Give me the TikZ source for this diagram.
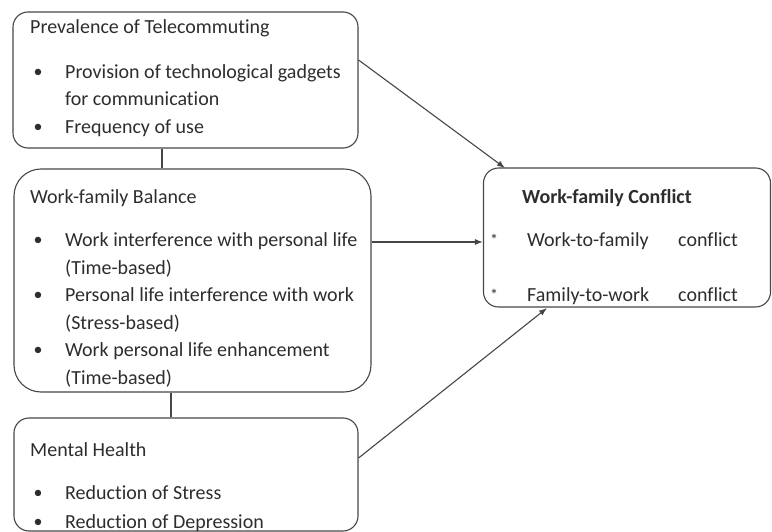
\documentclass[tikz,border=0pt]{standalone}
\usepackage{fontspec}
\setmainfont{Carlito}[Ligatures=NoCommon]
\usetikzlibrary{arrows.meta}
\definecolor{ink}{RGB}{45,45,45}
\definecolor{edge}{RGB}{70,70,70}
\begin{document}
\begin{tikzpicture}[x=1pt,y=-1pt,
  box/.style={draw=edge,line width=1.1pt,inner sep=0pt},
  txt/.style={anchor=base west,inner sep=0pt,text=ink,font=\fontsize{20}{24}\selectfont},
  bul/.style={anchor=center,inner sep=0pt,text=ink,font=\fontsize{18}{24}\selectfont},
  conn/.style={draw=edge,line width=1.1pt},
  arr/.style={conn,-{Latex[length=8pt,width=6pt]}}]
\useasboundingbox (0,0) rectangle (772,532);
% boxes
\node[box,rounded corners=15pt,minimum width=345pt,minimum height=136pt] (b1) at (185.5,80) {};
\node[box,rounded corners=27pt,minimum width=357pt,minimum height=223pt] (b2) at (192.5,280.5) {};
\node[box,rounded corners=15pt,minimum width=344pt,minimum height=113pt] (b3) at (186,474.5) {};
\node[box,rounded corners=15pt,minimum width=287pt,minimum height=139pt] (b4) at (627,237.5) {};
% box 1 text
\node[txt] (t1) at (30,33.5) {Prevalence of Telecommuting};
\node[bul] (d11) at (38,73) {•};
\node[txt] (t11) at (65,78.5) {Provision of technological gadgets};
\node[txt] (t12) at (65,106) {for communication};
\node[bul] (d12) at (38,128) {•};
\node[txt] (t13) at (65,133.5) {Frequency of use};
% box 2 text
\node[txt] (t2) at (30,203.5) {Work-family Balance};
\node[bul] (d21) at (38,241) {•};
\node[txt] (t21) at (65,246.5) {Work interference with personal life};
\node[txt] (t22) at (65,274) {(Time-based)};
\node[bul] (d22) at (38,296) {•};
\node[txt] (t23) at (65,301.5) {Personal life interference with work};
\node[txt] (t24) at (65,329) {(Stress-based)};
\node[bul] (d23) at (38,351) {•};
\node[txt] (t25) at (65,356.5) {Work personal life enhancement};
\node[txt] (t26) at (65,384) {(Time-based)};
% box 3 text
\node[txt] (t3) at (30,456.5) {Mental Health};
\node[bul] (d31) at (38,494) {•};
\node[txt] (t31) at (65,499.5) {Reduction of Stress};
\node[bul] (d32) at (38,523) {•};
\node[txt] (t32) at (65,528.5) {Reduction of Depression};
% box 4 text
\node[txt,font=\fontsize{20}{24}\selectfont\bfseries] (t4) at (522,203.5) {Work-family Conflict};
\node[txt,font=\fontsize{16}{20}\selectfont] (s41) at (490,245.5) {*};
\node[txt] (t41) at (527,246.5) {Work-to-family};
\node[txt] (t42) at (678,246.5) {conflict};
\node[txt,font=\fontsize{16}{20}\selectfont] (s42) at (490,300.5) {*};
\node[txt] (t43) at (527,301.5) {Family-to-work};
\node[txt] (t44) at (678,301.5) {conflict};
% connector anchors
\coordinate (v1) at (162,0);
\coordinate (v2) at (171,0);
\coordinate (a1s) at (0,60);
\coordinate (a1e) at (505,168);
\coordinate (a2) at (0,242);
\coordinate (a3s) at (0,458);
\coordinate (a3e) at (547,308);
% connectors
\draw[conn] (b1.south -| v1) -- (b2.north -| v1);
\draw[conn] (b2.south -| v2) -- (b3.north -| v2);
\draw[arr] (b1.east |- a1s) -- (a1e);
\draw[arr] (b2.east |- a2) -- (b4.west |- a2);
\draw[arr] (b3.east |- a3s) -- (a3e);
\end{tikzpicture}
\end{document}
